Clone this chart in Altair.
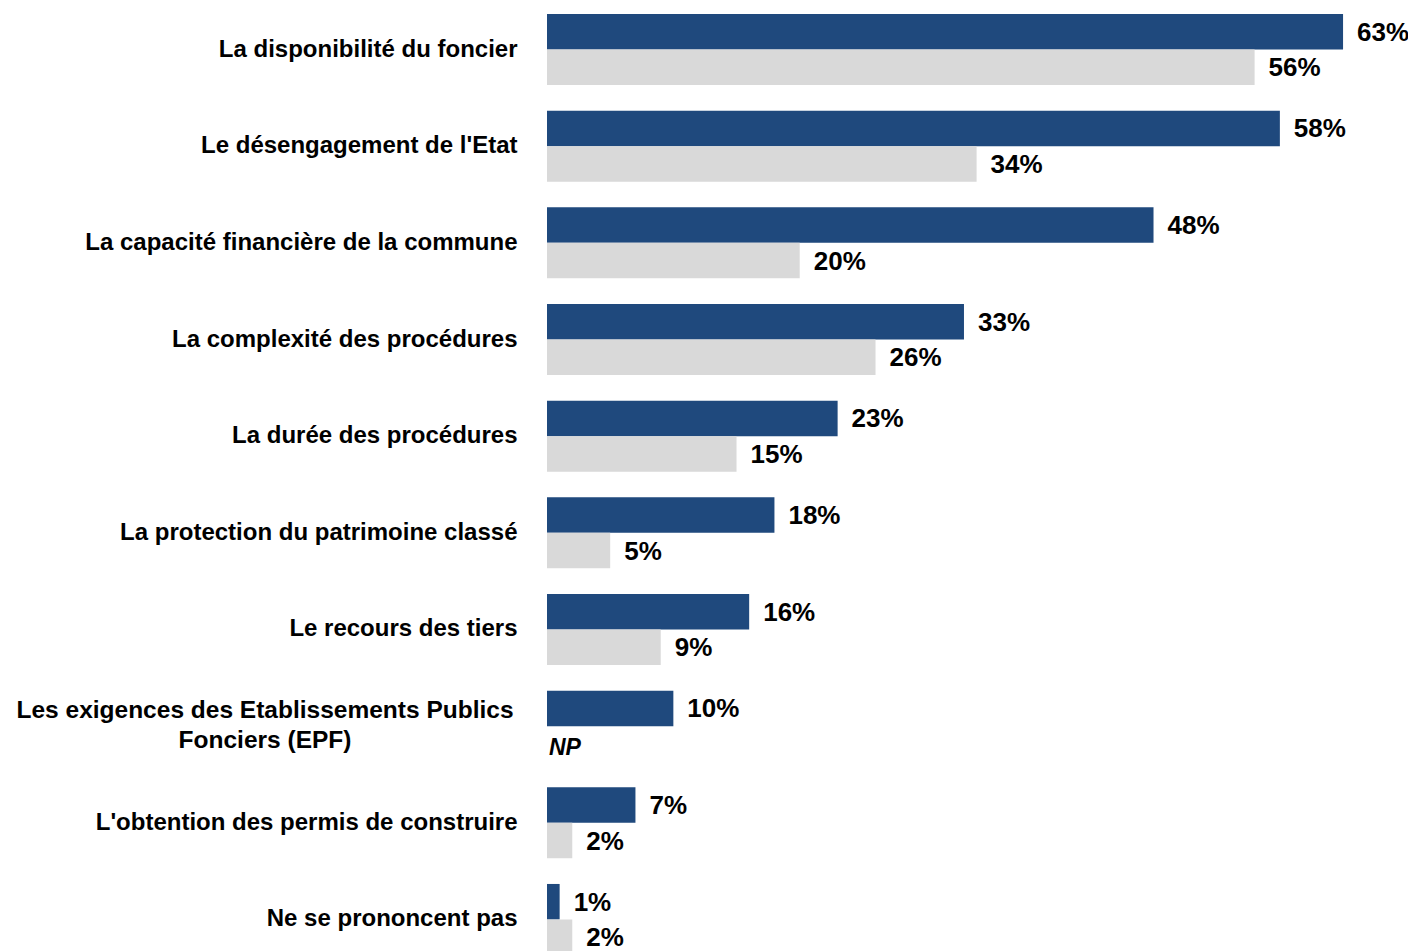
import altair as alt
import pandas as pd

categories = [
    "La disponibilité du foncier",
    "Le désengagement de l'Etat",
    "La capacité financière de la commune",
    "La complexité des procédures",
    "La durée des procédures",
    "La protection du patrimoine classé",
    "Le recours des tiers",
    "Les exigences des Etablissements Publics|Fonciers (EPF)",
    "L'obtention des permis de construire",
    "Ne se prononcent pas",
]
series = ["Série 1", "Série 2"]
values_s1 = [63, 58, 48, 33, 23, 18, 16, 10, 7, 1]
values_s2 = [56, 34, 20, 26, 15, 5, 9, None, 2, 2]
colors = ["#1F497D", "#D9D9D9"]

rows = []
for i, c in enumerate(categories):
    for s, vals in zip(series, [values_s1, values_s2]):
        v = vals[i]
        rows.append({
            "cat": c,
            "serie": s,
            "value": v,
            "label": f"{v}%" if v is not None else "NP",
        })
df = pd.DataFrame(rows)
cat_df = pd.DataFrame({"cat": categories})

FONT = "Liberation Sans"
xscale = alt.Scale(domain=[0, 68.14], nice=False, zero=True)
yscale = alt.Scale(domain=categories, paddingInner=0.265, paddingOuter=0.062)
offscale = alt.Scale(domain=series, paddingInner=0, paddingOuter=0)

base = alt.Chart(df).encode(
    y=alt.Y("cat:N", scale=yscale, sort=categories,
            axis=alt.Axis(title=None, domain=False, ticks=False, grid=False,
                          labelFont=FONT, labelFontSize=24,
                          labelFontWeight="bold", labelColor="#000000",
                          labelPadding=30, labelLimit=700,
                          labelExpr="indexof(datum.label, '|') >= 0 ? '' : datum.label")),
    yOffset=alt.YOffset("serie:N", scale=offscale),
)

bars = base.transform_filter("datum.value != null").mark_bar().encode(
    x=alt.X("value:Q", scale=xscale, axis=None),
    color=alt.Color("serie:N", scale=alt.Scale(domain=series, range=colors), legend=None),
)

texts = base.transform_filter("datum.value != null").mark_text(
    align="left", baseline="middle", dx=14, dy=1,
    font=FONT, fontSize=26, fontWeight="bold", color="#000000",
).encode(
    x=alt.X("value:Q", scale=xscale, axis=None),
    text="label:N",
)

np_text = base.transform_filter("datum.value == null").mark_text(
    align="left", baseline="middle", dx=2, dy=4,
    font=FONT, fontSize=23, fontWeight="bold", fontStyle="italic",
    color="#000000",
).encode(
    x=alt.value(0),
    text="label:N",
)

multi_label = alt.Chart(cat_df).transform_filter(
    "indexof(datum.cat, '|') >= 0"
).mark_text(
    align="center", baseline="middle", dy=-15, lineBreak="|", lineHeight=30,
    font=FONT, fontSize=24.5, fontWeight="bold", color="#000000",
).encode(
    y=alt.Y("cat:N", scale=yscale, sort=categories),
    x=alt.value(-282),
    text="cat:N",
)

chart = alt.layer(bars, texts, np_text, multi_label).properties(
    width=861, height=953,
    padding={"left": 539, "top": 0, "right": 0, "bottom": 0},
    autosize=alt.AutoSizeParams(type="none"),
    background="#FFFFFF",
).configure_view(stroke=None)

chart.save("out.html", embed_options={"renderer": "svg", "actions": False})
